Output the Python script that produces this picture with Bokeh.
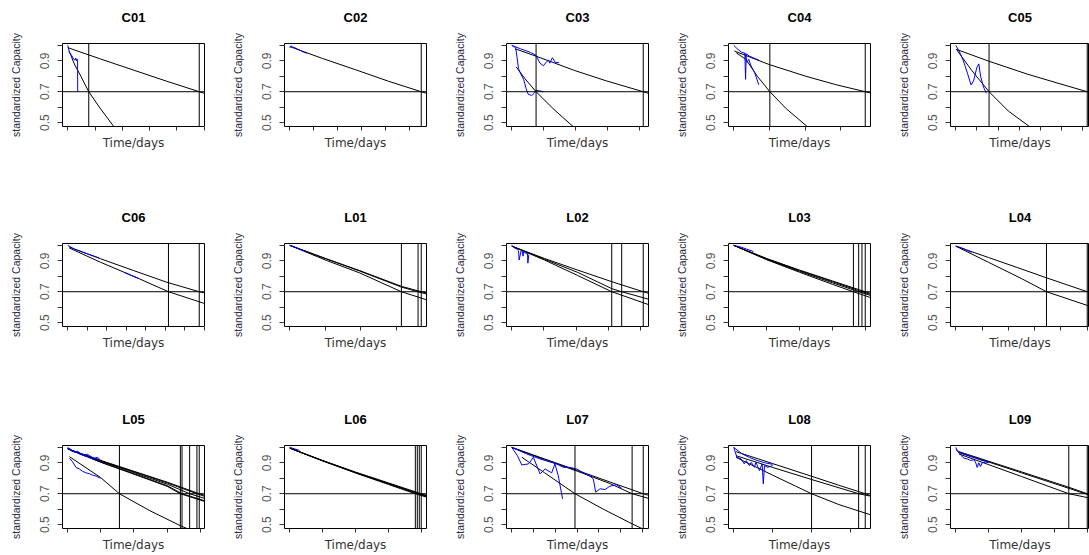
from bokeh.plotting import figure
from bokeh.layouts import gridplot
from bokeh.models import (Span, FixedTicker, SingleIntervalTicker, Range1d,
                          CustomJSTickFormatter, LinearAxis)
from bokeh.embed import file_html
from bokeh.resources import INLINE

FONT = "Liberation Sans"
EOL_LEVEL = 0.7          # end-of-life threshold on standardized capacity
TICK_DAYS = 100          # spacing of the time ticks
Y_TICKS = [0.5, 0.7, 0.9]
Y_MINOR = [0.6, 0.8, 1.0]

# Each cell: fitted degradation curves (black), measured capacity (blue),
# and the days at which each fitted curve reaches the end-of-life level.
C01_fit = [([0, 120, 241, 361, 482, 506], [0.985, 0.912, 0.840, 0.769, 0.700, 0.687]),
           ([5, 24, 48, 77, 120, 169, 185], [0.963, 0.88, 0.80, 0.70, 0.59, 0.474, 0.455])]
C01_obs = [([0, 6, 14, 22, 27, 29, 32, 34, 36, 36.5],
            [1.0, 0.955, 0.935, 0.91, 0.905, 0.918, 0.90, 0.912, 0.90, 0.70])]
C01_eol = [77, 482]

C02_fit = [([0, 137, 275, 412, 549, 571], [0.992, 0.915, 0.842, 0.768, 0.70, 0.69])]
C02_obs = [([0, 5, 11, 22, 33, 44, 55, 66, 71],
            [0.985, 0.997, 0.99, 0.984, 0.975, 0.967, 0.958, 0.952, 0.948])]
C02_eol = [549]

C03_fit = [([10, 76, 197, 296, 411, 427], [0.978, 0.93, 0.837, 0.77, 0.70, 0.69]),
           ([14, 41, 76, 132, 197], [0.86, 0.785, 0.70, 0.585, 0.465])]
C03_obs = [([0, 27, 58, 76, 88, 99, 109, 115, 119, 127, 136, 148],
            [1.0, 0.978, 0.955, 0.935, 0.885, 0.868, 0.895, 0.905, 0.885, 0.92, 0.89, 0.888]),
           ([0, 12, 16, 21, 27, 37, 45, 51, 62, 70, 76, 88, 99],
            [1.0, 0.985, 0.93, 0.85, 0.82, 0.78, 0.72, 0.685, 0.675, 0.69, 0.71, 0.705, 0.70])]
C03_eol = [76, 411]

C04_fit = [([2, 99, 202, 287, 368, 383], [0.963, 0.876, 0.80, 0.745, 0.70, 0.692]),
           ([7, 34, 66, 101, 147, 206], [0.952, 0.909, 0.80, 0.70, 0.59, 0.474])]
C04_obs = [([0, 11, 22, 31, 33, 35, 44, 59, 70],
            [1.0, 0.975, 0.955, 0.95, 0.78, 0.945, 0.93, 0.915, 0.905]),
           ([31, 37, 42, 48, 59, 70], [0.95, 0.89, 0.91, 0.87, 0.82, 0.745])]
C04_eol = [101, 368]

C05_fit = [([3, 155, 335, 477, 620, 645], [0.974, 0.898, 0.815, 0.757, 0.70, 0.69]),
           ([3, 74, 157, 248, 350], [0.974, 0.84, 0.70, 0.575, 0.472])]
C05_obs = [([0, 16, 36, 55, 72, 84, 99, 109, 117, 131, 144],
            [1.0, 0.963, 0.90, 0.82, 0.744, 0.77, 0.855, 0.88, 0.80, 0.73, 0.69])]
C05_eol = [157, 620]

C06_fit = [([8, 169, 338, 509, 675, 699], [0.989, 0.913, 0.837, 0.761, 0.70, 0.693]),
           ([8, 169, 338, 517, 699], [0.983, 0.89, 0.80, 0.70, 0.625])]
C06_obs = [([0, 34, 68, 101, 135, 162], [1.0, 0.975, 0.96, 0.945, 0.93, 0.918]),
           ([290, 324, 365], [0.825, 0.806, 0.785])]
C06_eol = [517, 675]

L01_fit = [([0, 104, 197, 315, 371, 386], [1.0, 0.913, 0.837, 0.735, 0.70, 0.692]),
           ([0, 104, 197, 315, 362, 386], [1.0, 0.911, 0.834, 0.73, 0.70, 0.685]),
           ([0, 104, 197, 315, 386], [1.0, 0.902, 0.822, 0.70, 0.648])]
L01_obs = [([0, 19, 33, 48], [1.0, 0.985, 0.97, 0.96])]
L01_eol = [315, 362, 371]

L02_fit = [([0, 102, 205, 311, 409, 425], [0.995, 0.915, 0.84, 0.765, 0.70, 0.69]),
           ([0, 102, 205, 311, 342, 425], [0.995, 0.91, 0.825, 0.72, 0.70, 0.652]),
           ([0, 102, 205, 311, 425], [0.995, 0.905, 0.805, 0.70, 0.617])]
L02_obs = [([0, 8, 16, 21, 23, 29, 33, 35, 37, 41, 45, 49, 50, 53],
            [1.0, 0.985, 0.975, 0.965, 0.905, 0.965, 0.96, 0.93, 0.958, 0.955, 0.945, 0.95, 0.885, 0.94])]
L02_eol = [311, 342, 409]

L03_fit = [([0, 100, 200, 300, 400, 416], [1.0, 0.915, 0.84, 0.77, 0.70, 0.69]),
           ([0, 100, 200, 300, 390, 416], [1.0, 0.913, 0.837, 0.765, 0.70, 0.683]),
           ([0, 100, 200, 300, 380, 416], [1.0, 0.91, 0.832, 0.758, 0.70, 0.676]),
           ([0, 100, 200, 300, 364, 416], [1.0, 0.907, 0.826, 0.748, 0.70, 0.662])]
L03_obs = [([0, 20, 40, 60], [1.0, 0.99, 0.975, 0.96])]
L03_eol = [364, 380, 390, 400]

L04_fit = [([0, 125, 250, 345, 500, 520], [0.995, 0.921, 0.847, 0.79, 0.70, 0.689]),
           ([0, 125, 250, 345, 520], [0.995, 0.89, 0.785, 0.70, 0.60])]
L04_obs = [([0, 20, 40, 60], [0.995, 0.985, 0.97, 0.955])]
L04_eol = [345, 500]

L05_fit = [([0, 100, 200, 300, 397, 413], [0.99, 0.915, 0.845, 0.775, 0.70, 0.69]),
           ([0, 100, 200, 300, 390, 413], [0.99, 0.913, 0.842, 0.77, 0.70, 0.683]),
           ([0, 100, 200, 300, 368, 413], [0.99, 0.91, 0.837, 0.762, 0.70, 0.67]),
           ([0, 100, 200, 300, 345, 413], [0.99, 0.905, 0.83, 0.752, 0.70, 0.655]),
           ([0, 100, 200, 300, 340, 413], [0.99, 0.903, 0.826, 0.748, 0.70, 0.65]),
           ([5, 99, 156, 248, 343, 360], [0.94, 0.805, 0.70, 0.59, 0.49, 0.475])]
L05_obs = [([0, 10, 20, 30, 40, 50, 60, 70, 80, 90, 100],
            [1.0, 0.985, 0.97, 0.975, 0.958, 0.95, 0.955, 0.94, 0.93, 0.935, 0.915]),
           ([0, 12, 25, 38, 50, 62, 75, 88, 95],
            [0.995, 0.975, 0.968, 0.955, 0.945, 0.94, 0.925, 0.93, 0.91]),
           ([5, 15, 25, 35, 45, 55, 65, 75, 85, 99],
            [0.93, 0.905, 0.87, 0.86, 0.845, 0.835, 0.83, 0.82, 0.815, 0.80])]
L05_eol = [156, 340, 345, 368, 390, 397]

L06_fit = [([0, 100, 200, 300, 400, 416], [0.995, 0.915, 0.84, 0.77, 0.70, 0.69]),
           ([0, 100, 200, 300, 394, 416], [0.995, 0.914, 0.838, 0.767, 0.70, 0.686]),
           ([0, 100, 200, 300, 388, 416], [0.995, 0.913, 0.836, 0.764, 0.70, 0.682]),
           ([0, 100, 200, 300, 382, 416], [0.995, 0.912, 0.834, 0.76, 0.70, 0.678])]
L06_obs = [([0, 15, 30], [1.0, 0.99, 0.98])]
L06_eol = [382, 388, 394, 400]

L07_fit = [([0, 151, 302, 452, 603, 627], [1.0, 0.925, 0.85, 0.775, 0.70, 0.69]),
           ([0, 151, 302, 452, 552, 627], [1.0, 0.92, 0.845, 0.765, 0.70, 0.67]),
           ([46, 150, 290, 420, 552, 627], [0.936, 0.836, 0.70, 0.60, 0.505, 0.455])]
L07_obs = [([0, 26, 46, 77, 99, 130, 153, 183, 198, 213, 233],
            [1.0, 0.946, 0.886, 0.893, 0.936, 0.828, 0.86, 0.835, 0.893, 0.818, 0.667]),
           ([0, 69, 130, 206, 236, 267, 298, 328, 359, 374, 385, 405, 428, 450, 481, 504],
            [1.0, 0.957, 0.925, 0.893, 0.871, 0.87, 0.86, 0.835, 0.813, 0.796, 0.71, 0.732,
             0.727, 0.749, 0.758, 0.736])]
L07_eol = [290, 552, 603]

L08_fit = [([6, 100, 200, 270, 338, 350], [0.972, 0.895, 0.813, 0.755, 0.70, 0.689]),
           ([6, 100, 200, 321, 350], [0.946, 0.87, 0.792, 0.70, 0.685]),
           ([6, 100, 200, 270, 350], [0.935, 0.82, 0.70, 0.63, 0.565])]
L08_obs = [([0, 8, 19, 27, 32, 40, 45, 53, 57, 66, 73, 76, 79, 87, 100],
            [1.0, 0.936, 0.925, 0.893, 0.914, 0.882, 0.903, 0.871, 0.903, 0.85, 0.893, 0.764,
             0.882, 0.871, 0.882]),
           ([0, 20, 40, 60, 80, 100], [1.0, 0.96, 0.935, 0.915, 0.9, 0.89])]
L08_eol = [200, 321, 338]

L09_fit = [([10, 100, 200, 343, 399, 415], [0.972, 0.91, 0.841, 0.742, 0.70, 0.69]),
           ([10, 100, 200, 343, 393, 415], [0.965, 0.905, 0.835, 0.735, 0.70, 0.688]),
           ([10, 100, 200, 343, 415], [0.957, 0.888, 0.811, 0.70, 0.668])]
L09_obs = [([0, 5, 15, 25, 35, 45, 55, 60, 65, 70, 75, 80, 90, 100],
            [1.0, 0.975, 0.95, 0.93, 0.925, 0.915, 0.92, 0.905, 0.87, 0.9, 0.875, 0.9, 0.905, 0.9]),
           ([0, 20, 40, 60, 80, 100], [0.985, 0.96, 0.945, 0.93, 0.915, 0.905])]
L09_eol = [343, 399]

CELLS = [
    ["C01", "C02", "C03", "C04", "C05"],
    ["C06", "L01", "L02", "L03", "L04"],
    ["L05", "L06", "L07", "L08", "L09"],
]
SERIES = {name: (globals()[name + "_fit"], globals()[name + "_obs"], globals()[name + "_eol"])
          for row in CELLS for name in row}

# page geometry
COL_W, LAST_W = 222, 201
FRAME_W, FRAME_H, LEFT = 142, 83, 62
ROW_H = [200, 200, 155]
ROW_TOP = [43, 43, 45]


def make_cell(name, r, c):
    fits, obs, eol = SERIES[name]
    life = max(eol)
    last = c == len(CELLS[0]) - 1
    width = LAST_W if last else COL_W
    fw = width - LEFT if last else FRAME_W
    x0, x1 = -0.04 * life, 1.04 * life
    x1 = x0 + (x1 - x0) * fw / FRAME_W
    h, top = ROW_H[r], ROW_TOP[r]
    p = figure(width=width, height=h, x_range=Range1d(x0, x1), y_range=Range1d(0.475, 1.012),
               output_backend="svg", toolbar_location=None,
               min_border_left=LEFT, min_border_right=width - LEFT - fw,
               min_border_top=top, min_border_bottom=h - top - FRAME_H)
    p.outline_line_color = "black"
    p.outline_line_width = 1
    p.grid.visible = False
    p.background_fill_color = "white"
    p.border_fill_color = "white"

    xa = p.below[0]
    xa.ticker = SingleIntervalTicker(interval=TICK_DAYS, num_minor_ticks=0)
    xa.formatter = CustomJSTickFormatter(code="return ''")
    xa.major_label_standoff = 0
    xa.axis_line_color = None
    xa.major_tick_in = 0
    xa.major_tick_out = 4
    xa.major_tick_line_color = "#333333"
    xa.minor_tick_line_color = None
    xa.axis_label = "Time/days"
    xa.axis_label_text_font = "DejaVu Sans"
    xa.axis_label_text_font_size = "12px"
    xa.axis_label_text_font_style = "normal"
    xa.axis_label_text_color = "#333333"
    xa.axis_label_standoff = 5

    ya = p.left[0]
    ya.ticker = FixedTicker(ticks=Y_TICKS, minor_ticks=Y_MINOR)
    ya.axis_line_color = None
    ya.major_tick_in = 0
    ya.major_tick_out = 5
    ya.minor_tick_in = 0
    ya.minor_tick_out = 5
    ya.major_tick_line_color = "#333333"
    ya.minor_tick_line_color = "#333333"
    ya.major_label_orientation = "vertical"
    ya.major_label_text_font = FONT
    ya.major_label_text_font_size = "12px"
    ya.major_label_text_color = "#555555"
    ya.major_label_standoff = 8
    ya.axis_label = "standardized Capacity"
    ya.axis_label_text_font = FONT
    ya.axis_label_text_font_size = "10.5px"
    ya.axis_label_text_font_style = "normal"
    ya.axis_label_text_color = "#2a2a40"
    ya.axis_label_standoff = 16

    # cell heading, carried by a tick-less axis above the box
    head = LinearAxis(ticker=FixedTicker(ticks=[]), axis_label=name,
                      axis_line_color=None, major_tick_in=0, major_tick_out=0,
                      minor_tick_in=0, minor_tick_out=0, major_label_standoff=0,
                      axis_label_standoff=19, axis_label_text_font=FONT,
                      axis_label_text_font_size="13px", axis_label_text_font_style="bold",
                      axis_label_text_color="black")
    p.add_layout(head, "above")

    for t, y in fits:
        p.line(t, y, line_color="black", line_width=1)
    for t, y in obs:
        p.line(t, y, line_color="#0000ff", line_width=1)
    p.add_layout(Span(location=EOL_LEVEL, dimension="width", line_color="black", line_width=1))
    for d in eol:
        p.add_layout(Span(location=d, dimension="height", line_color="black", line_width=1))
    return p


grid = [[make_cell(name, r, c) for c, name in enumerate(row)] for r, row in enumerate(CELLS)]
page = gridplot(grid, toolbar_location=None)

open("out.html", "w").write(file_html(page, INLINE))
